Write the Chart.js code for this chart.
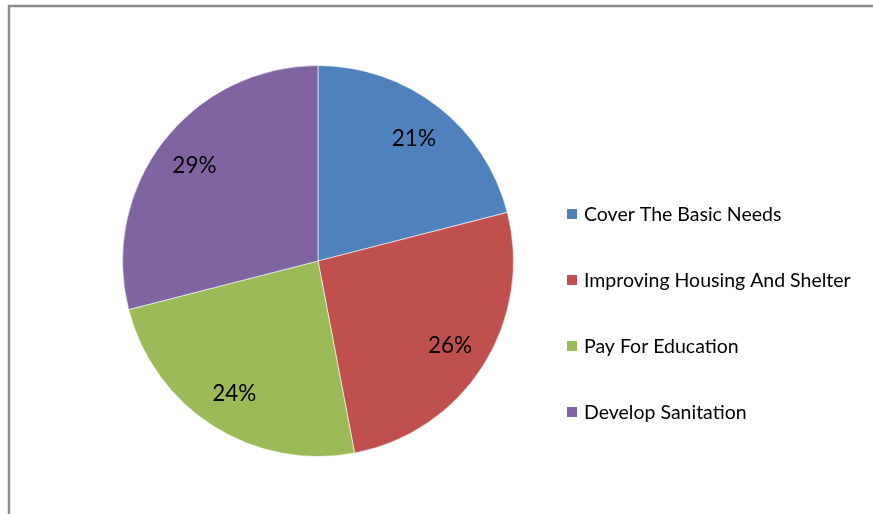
<!DOCTYPE html>
<html>
<head>
<meta charset="utf-8">
<title>Use of funds</title>
<script src="https://cdn.jsdelivr.net/npm/chart.js@4"></script>
<style>
  html, body { margin: 0; padding: 0; background: #fff; }
  #wrap { position: relative; width: 873px; height: 514px; }
</style>
</head>
<body>
<div id="wrap">
  <canvas id="pie" width="873" height="514"></canvas>
</div>
<script>
const categories = ['Cover The Basic Needs', 'Improving Housing And Shelter', 'Pay For Education', 'Develop Sanitation'];
const shares = [21, 26, 24, 29];
const sliceColors = ['#4F81BD', '#C0504D', '#9BBB59', '#8064A2'];

const FONT = 'Lato, "Open Sans", sans-serif';

// grey frame along the top and left edge
const frame = {
  id: 'frame',
  beforeDraw(chart) {
    const ctx = chart.ctx;
    ctx.save();
    ctx.fillStyle = '#fff';
    ctx.fillRect(0, 0, chart.width, chart.height);
    ctx.strokeStyle = '#8c8c8c';
    ctx.lineWidth = 2.5;
    ctx.beginPath();
    ctx.moveTo(9, chart.height);
    ctx.lineTo(9, 6);
    ctx.lineTo(chart.width, 6);
    ctx.stroke();
    ctx.restore();
  }
};

// percentage labels inside each slice
const sliceLabels = {
  id: 'sliceLabels',
  afterDatasetsDraw(chart) {
    const ctx = chart.ctx;
    const meta = chart.getDatasetMeta(0);
    const total = shares.reduce((a, b) => a + b, 0);
    ctx.save();
    ctx.font = '22.5px ' + FONT;
    ctx.fillStyle = '#000';
    ctx.textAlign = 'center';
    ctx.textBaseline = 'middle';
    meta.data.forEach((arc, i) => {
      const mid = (arc.startAngle + arc.endAngle) / 2;
      const r = arc.outerRadius * 0.8;
      const x = arc.x + Math.cos(mid) * r;
      const y = arc.y + Math.sin(mid) * r;
      ctx.fillText(Math.round(shares[i] / total * 100) + '%', x, y + 1);
    });
    ctx.restore();
  }
};

// legend column to the right of the pie
const sideLegend = {
  id: 'sideLegend',
  afterDraw(chart) {
    const ctx = chart.ctx;
    const x0 = 567, y0 = 214, step = 66;
    ctx.save();
    ctx.font = '19.5px ' + FONT;
    ctx.textBaseline = 'middle';
    chart.data.labels.forEach((label, i) => {
      const y = y0 + i * step;
      ctx.fillStyle = sliceColors[i];
      ctx.fillRect(x0, y - 5, 10, 10);
      ctx.fillStyle = '#000';
      ctx.fillText(label, x0 + 17, y + 1);
    });
    ctx.restore();
  }
};

new Chart(document.getElementById('pie'), {
  type: 'pie',
  data: {
    labels: categories,
    datasets: [{
      data: shares,
      backgroundColor: sliceColors,
      borderColor: 'rgba(255,255,255,0.6)',
      borderWidth: 1
    }]
  },
  options: {
    responsive: false,
    animation: false,
    layout: { padding: { left: 122, right: 359, top: 65, bottom: 57 } },
    plugins: {
      legend: { display: false },
      tooltip: { enabled: false }
    }
  },
  plugins: [frame, sliceLabels, sideLegend]
});
</script>
</body>
</html>
